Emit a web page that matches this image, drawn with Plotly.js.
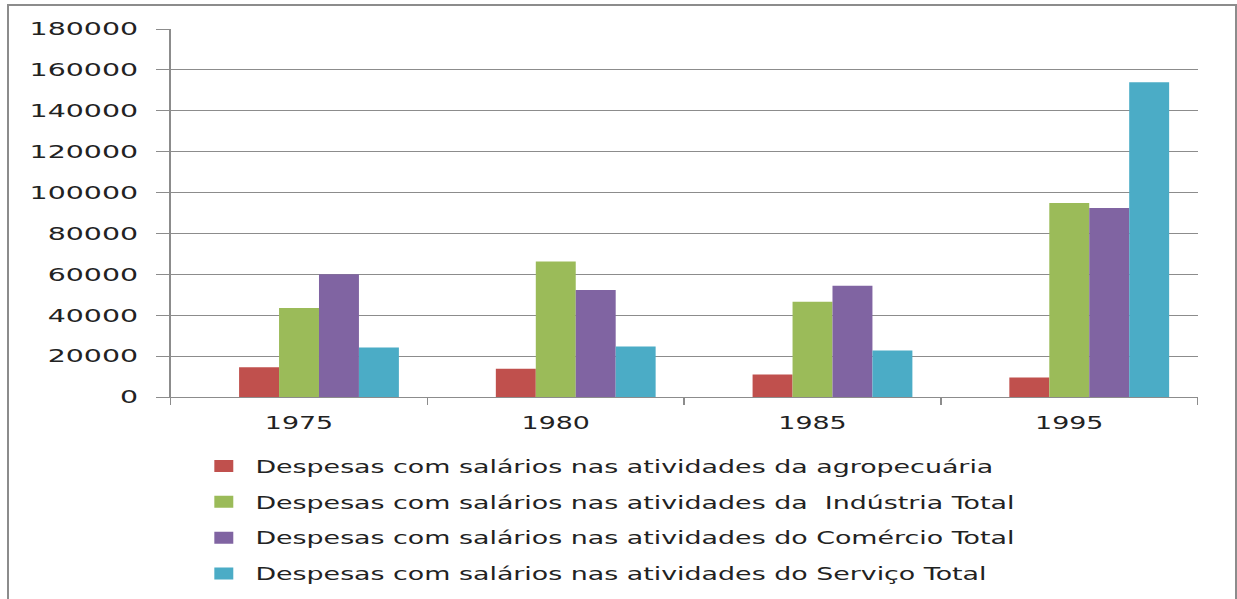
<!DOCTYPE html>
<html>
<head>
<meta charset="utf-8">
<script src="https://cdn.plot.ly/plotly-3.0.1.min.js"></script>
<style>
  html, body { margin: 0; padding: 0; background: #fff; overflow: hidden; }
  #wrap { position: absolute; left: 0; top: 0; width: 783px; height: 599px; transform-origin: 0 0; transform: scaleX(1.58); }
  #frame { position: absolute; left: 7px; top: 4px; width: 1226px; height: 620px; border: 2px solid #8c8c8c; pointer-events: none; }
</style>
</head>
<body>
<div id="wrap"><div id="chart" style="width:783px;height:599px;"></div></div>
<div id="frame"></div>
<script>
const categories = ['1975', '1980', '1985', '1995'];
const blank = [null, null, null, null];
const agropecuaria = [14600, 13800, 11000, 9500];
const industria = [43500, 66300, 46600, 94900];
const comercio = [60000, 52300, 54400, 92400];
const servico = [24200, 24700, 22700, 153900];
const seriesNames = [
  'Despesas com salários nas atividades da agropecuária',
  'Despesas com salários nas atividades da  Indústria Total',
  'Despesas com salários nas atividades do Comércio Total',
  'Despesas com salários nas atividades do Serviço Total'
];
const colors = ['#C0504D', '#9BBB59', '#8064A2', '#4BACC6'];
const yTicks = [0, 20000, 40000, 60000, 80000, 100000, 120000, 140000, 160000, 180000];

const FONT = 'DejaVu Sans, Verdana, sans-serif';
const values = [agropecuaria, industria, comercio, servico];

const traces = [{
  type: 'bar', x: categories, y: blank, name: '', showlegend: false,
  marker: { color: 'rgba(0,0,0,0)' }, hoverinfo: 'skip'
}];
values.forEach((v, i) => {
  traces.push({
    type: 'bar', x: categories, y: v, name: seriesNames[i],
    legendgroup: 'g' + i,
    marker: { color: colors[i], line: { width: 0 } }
  });
});

const layout = {
  width: 783, height: 599,
  margin: { l: 107.6, r: 24.8, t: 28.5, b: 202, autoexpand: false },
  paper_bgcolor: '#ffffff', plot_bgcolor: '#ffffff',
  font: { family: FONT, size: 17, color: '#222' },
  barmode: 'group', bargap: 0.222, bargroupgap: 0,
  showlegend: true,
  hovermode: false,
  xaxis: {
    type: 'category',
    showline: true, linecolor: '#8c8c8c', linewidth: 1,
    ticks: 'outside', tickson: 'boundaries', ticklen: 7, tickcolor: '#8c8c8c', tickwidth: 1,
    showgrid: false, zeroline: false,
    tickfont: { family: FONT, size: 17, color: '#222' },
    ticklabelstandoff: 11,
    automargin: false,
    fixedrange: true
  },
  yaxis: {
    range: [0, 180000], tickvals: yTicks, ticktext: yTicks.map(String),
    showline: true, linecolor: '#8c8c8c', linewidth: 1,
    ticks: 'outside', ticklen: 8, tickcolor: '#8c8c8c', tickwidth: 1,
    showgrid: true, gridcolor: '#8c8c8c', gridwidth: 1,
    zeroline: false,
    tickfont: { family: FONT, size: 18, color: '#222' },
    ticklabelstandoff: 8,
    automargin: false,
    fixedrange: true
  },
  legend: {
    orientation: 'v', x: 0.021, xanchor: 'left', y: -0.14, yanchor: 'top',
    traceorder: 'grouped', tracegroupgap: 10.7,
    bgcolor: 'rgba(0,0,0,0)', borderwidth: 0,
    font: { family: FONT, size: 17, color: '#222' }
  }
};

Plotly.newPlot('chart', traces, layout, { displayModeBar: false, staticPlot: true });
</script>
</body>
</html>
